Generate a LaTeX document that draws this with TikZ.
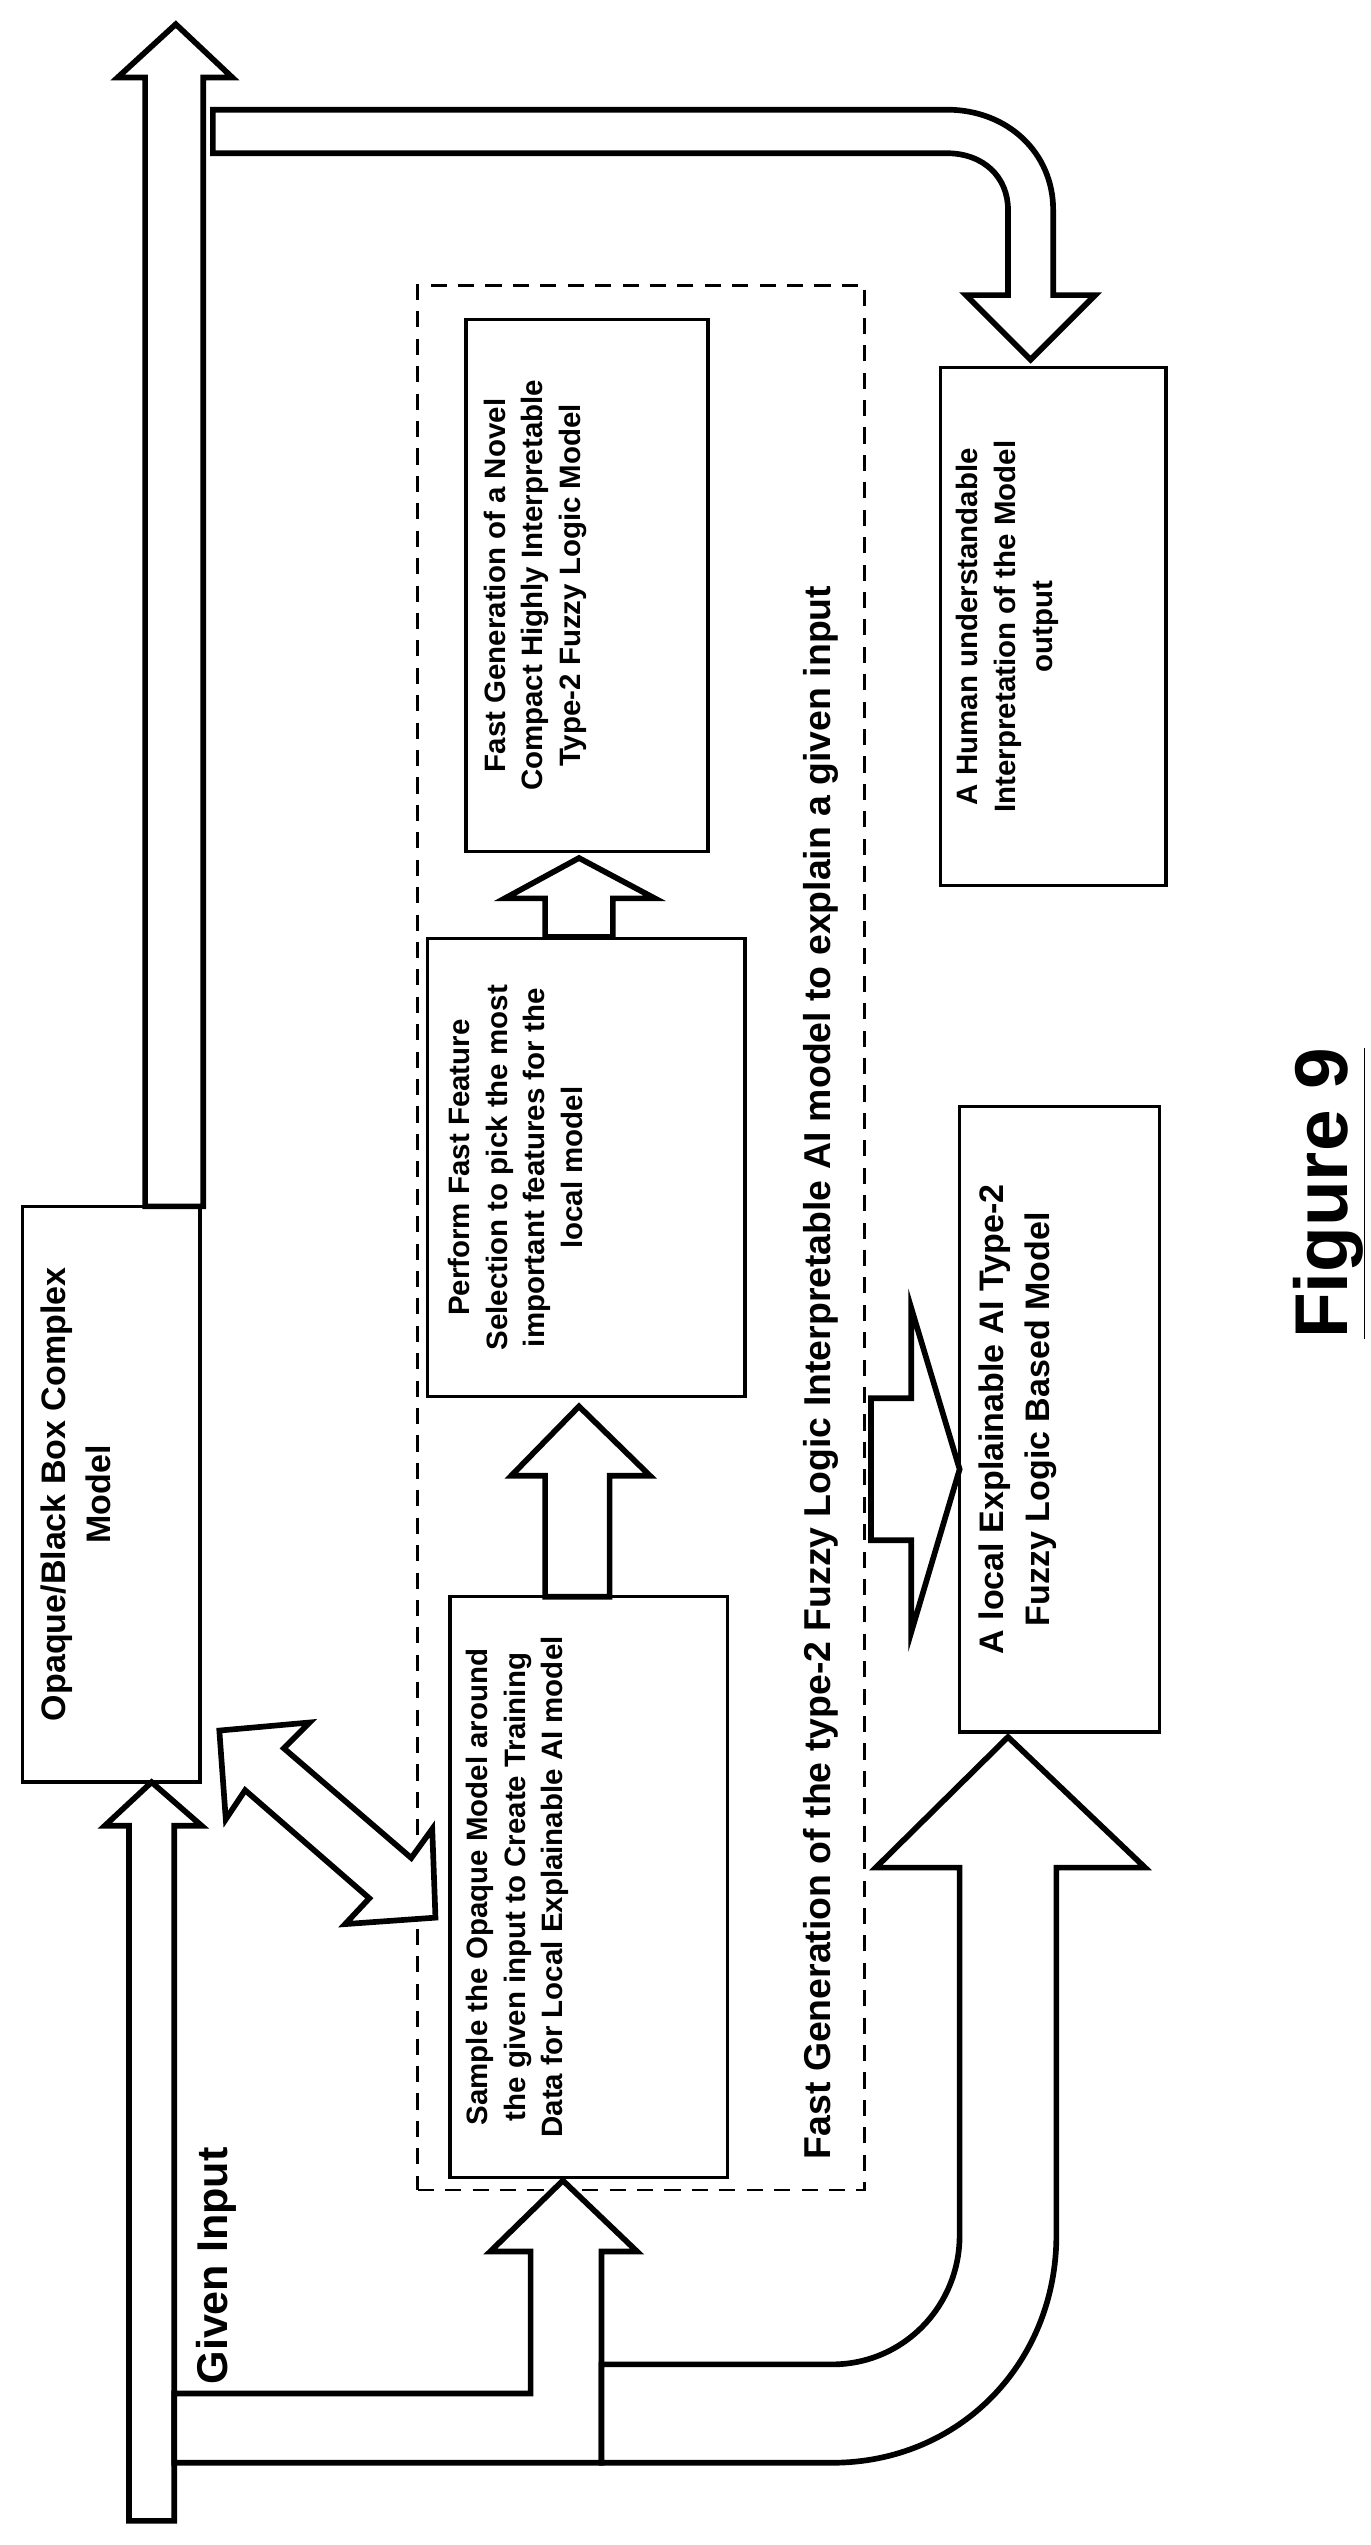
\documentclass[tikz,border=0pt]{standalone}
\usepackage{fontspec}
\setmainfont{Liberation Sans}
\begin{document}
\begin{tikzpicture}[x=0.05cm, y=-0.05cm,
  line join=miter,%
  box/.style={draw, line width=3pt, minimum width=#1},
  arr/.style={draw, fill=white, line width=5pt},
  lbl/.style={rotate=90, align=center, font=\bfseries\fontsize{26}{33}\selectfont, inner sep=0pt},
  big lbl/.style={lbl, font=\bfseries\fontsize{30}{40}\selectfont}]

\useasboundingbox (0,0) rectangle (850,1578);

% boxes
\node[box=5.5cm, minimum height=17.85cm] (opaque) at (69,926.5) {};
\node[box=8.6cm, minimum height=18cm] (sample) at (365,1170) {};
\node[box=9.85cm, minimum height=14.2cm] (perform) at (363.5,724) {};
\node[box=7.5cm, minimum height=16.5cm] (fastgen) at (364,363) {};
\node[box=7cm, minimum height=16.05cm] (human) at (653,388.5) {};
\node[box=6.2cm, minimum height=19.4cm] (local) at (657,880) {};
\node[draw, line width=2.2pt, dash pattern=on 0.5cm off 0.35cm,
  minimum width=13.85cm, minimum height=59.05cm] (frame) at (397.5,767.5) {};

% box texts
\node[big lbl, anchor=north] (opaquetxt) at ([xshift=0.6cm]opaque.west) {Opaque/Black Box Complex\\Model};
\node[lbl, anchor=north] (sampletxt) at ([xshift=0.55cm]sample.west) {Sample the Opaque Model around\\the given input to Create Training\\Data for Local Explainable AI model};
\node[lbl, anchor=north] (performtxt) at ([xshift=0.7cm]perform.west) {Perform Fast Feature\\Selection to pick the most\\important features for the\\local model};
\node[lbl, anchor=north] (fastgentxt) at ([xshift=0.6cm]fastgen.west) {Fast Generation of a Novel\\Compact Highly Interpretable\\Type-2 Fuzzy Logic Model};
\node[lbl, anchor=north] (humantxt) at ([xshift=0.55cm]human.west) {A Human understandable\\Interpretation of the Model\\output};
\node[big lbl, anchor=north] (localtxt) at ([xshift=0.65cm]local.west) {A local Explainable AI Type-2\\Fuzzy Logic Based Model};

% free texts
\node[lbl, font=\bfseries\fontsize{38}{44}\selectfont] (given) at (134,1405) {Given Input};
\node[lbl, font=\bfseries\fontsize{33}{40}\selectfont] (title) at (509,851) {Fast Generation of the type-2 Fuzzy Logic Interpretable AI model to explain a given input};
\node[lbl, font=\bfseries\fontsize{66}{72}\selectfont] (fig) at (824,740) {\underline{Figure 9}};

% output of the opaque model
\draw[arr] (90,748) -- (90,48) -- (73,48) -- (109,15) -- (144,48) -- (126,48) -- (126,748) -- cycle;
\draw[arr] (132,68) -- (587,68) .. controls (625,68) and (653,95) .. (653,130) -- (653,183)
  -- (679,183) -- (639,223) -- (599,183) -- (625,183) -- (625,130)
  .. controls (625,110) and (610,95) .. (587,95) -- (132,95) -- cycle;

% given input
\draw[arr] (80,1563) -- (80,1132) -- (65,1132) -- (94,1105) -- (125,1132) -- (108,1132) -- (108,1563) -- cycle;
\draw[arr] (108,1484) -- (329,1484) -- (329,1396) -- (304,1396) -- (349,1352) -- (395,1396)
  -- (373,1396) -- (373,1527) -- (108,1527) -- cycle;
\draw[arr] (373,1466) -- (516,1466) .. controls (560,1466) and (595,1430) .. (595,1386) -- (595,1158)
  -- (543,1158) -- (625,1077) -- (710,1158) -- (655,1158) -- (655,1386)
  .. controls (655,1465) and (595,1527) .. (516,1527) -- (373,1527) -- cycle;

% between the opaque model and the sampling
\draw[arr] (136,1073) -- (192,1068) -- (176,1084) -- (255,1152) -- (268,1134) -- (270,1189)
  -- (214,1193) -- (229,1177) -- (152,1110) -- (140,1128) -- cycle;

% steps
\draw[arr] (338,990) -- (338,915) -- (317,915) -- (359,872) -- (403,915) -- (378,915) -- (378,990) -- cycle;
\draw[arr] (338,581) -- (338,557) -- (313,557) -- (359,532) -- (406,557) -- (380,557) -- (380,581) -- cycle;
\draw[arr] (540,867) -- (565,867) -- (565,811) -- (595,911) -- (565,1012) -- (565,955) -- (540,955) -- cycle;

\end{tikzpicture}
\end{document}
